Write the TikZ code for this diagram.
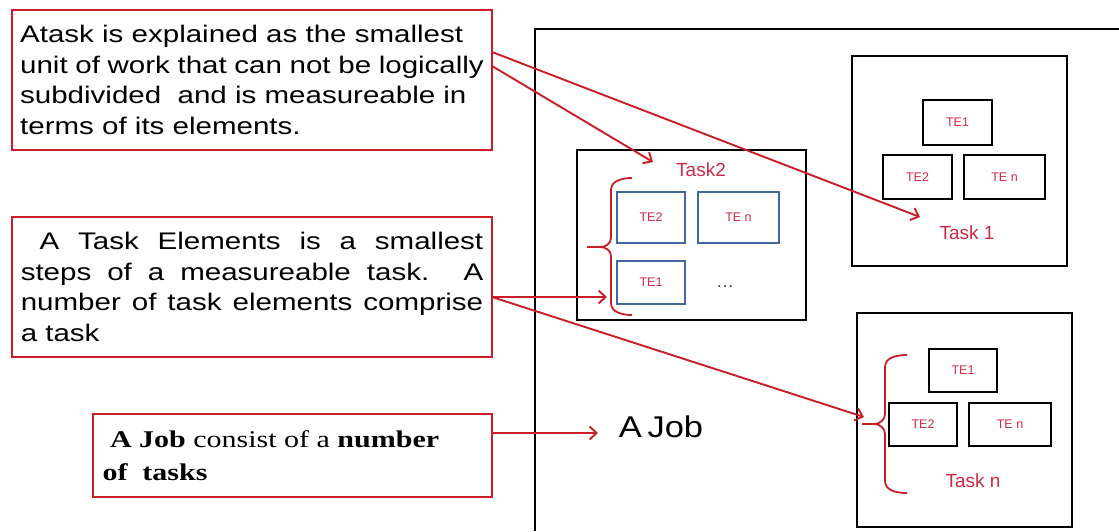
\documentclass[tikz,border=0pt]{standalone}
\usepackage{fontspec}
\setmainfont{Liberation Sans}
\newfontfamily\serifj{Liberation Serif}
\usetikzlibrary{arrows.meta}
\definecolor{rbox}{RGB}{200,30,40}
\definecolor{tered}{RGB}{205,40,70}
\definecolor{teblue}{RGB}{65,105,160}
\begin{document}
\begin{tikzpicture}[x=1pt,y=-1pt,
  textbox/.style={draw=rbox, line width=2pt, inner sep=0pt, align=left},
  taskbox/.style={draw=black, line width=2pt, inner sep=0pt},
  tebox/.style={draw=black, line width=2pt, inner sep=0pt, text=tered, font=\fontsize{12.5}{14}\selectfont},
  tebl/.style={tebox, draw=teblue},
  tasklbl/.style={text=tered, font=\fontsize{19}{22}\selectfont},
  brace/.style={draw=rbox, line width=1.8pt},
  arr/.style={draw=rbox, line width=1.9pt, -{Straight Barb[length=7pt,width=13pt]}}]
\useasboundingbox (0,0) rectangle (1119,531);

% outer job frame
\draw[line width=2pt] (535,531) -- (535,29) -- (1119,29);
\node[font=\fontsize{30}{36}\selectfont] (job) at (661,427) {\scalebox{1.15}[1]{A\,Job}};

% text boxes
\node[textbox, minimum width=480pt, minimum height=140pt] (b1) at (252,80)
  {\scalebox{1.23}[1]{\parbox{377pt}{\fontsize{24}{30.5}\selectfont
  Atask is explained as the smallest\\
  unit of work that can not be logically\\
  subdivided \ and is measureable in\\
  terms of its elements.}}};
\node[textbox, minimum width=480pt, minimum height=140pt] (b2) at (252,287)
  {\scalebox{1.23}[1]{\parbox{376pt}{\fontsize{24}{30.5}\selectfont
  \makebox[376pt][s]{\ A Task Elements is a smallest}\\
  \makebox[376pt][s]{steps of a measureable task. A}\\
  \makebox[376pt][s]{number of task elements comprise}\\
  a task}}};
\node[textbox, minimum width=399pt, minimum height=83pt] (b3) at (292.5,455.5)
  {\scalebox{1.25}[1]{\parbox{304pt}{\serifj\fontsize{24}{33}\selectfont
  \ \textbf{A Job} consist of a \textbf{number}\\
  \textbf{of \ tasks}}}};

% Task2
\node[taskbox, minimum width=229pt, minimum height=170pt] (task2) at (691.5,235) {};
\node[tasklbl] (task2l) at (701,170) {Task2};
\node[tebl, minimum width=68pt, minimum height=51pt] (t2e2) at (651,217.5) {TE2};
\node[tebl, minimum width=81pt, minimum height=51pt] (t2en) at (738.5,217.5) {TE n};
\node[tebl, minimum width=68pt, minimum height=43pt] (t2e1) at (651,282.5) {TE1};
\node[text=teblue!70!black, font=\fontsize{18}{20}\selectfont] (dots) at (725,287) {\dots};
\draw[brace] (632,178) to[out=180,in=90] (611,190) -- (611,238) to[out=-90,in=0] (600,247) -- (587,247)
  (600,247) to[out=0,in=90] (611,256) -- (611,303) to[out=-90,in=180] (632,315);

% Task1
\node[taskbox, minimum width=215pt, minimum height=210pt] (task1) at (959.5,161) {};
\node[tebox, minimum width=69pt, minimum height=45pt] (t1e1) at (957.5,122.5) {TE1};
\node[tebox, minimum width=69pt, minimum height=44pt] (t1e2) at (917.5,177) {TE2};
\node[tebox, minimum width=81pt, minimum height=44pt] (t1en) at (1004.5,177) {TE n};
\node[tasklbl] (task1l) at (967,233) {Task 1};

% Task n
\node[taskbox, minimum width=215pt, minimum height=214pt] (taskn) at (964.5,420) {};
\node[tebox, minimum width=68pt, minimum height=43pt] (tne1) at (963,370.5) {TE1};
\node[tebox, minimum width=68pt, minimum height=43pt] (tne2) at (923,424.5) {TE2};
\node[tebox, minimum width=82pt, minimum height=43pt] (tnen) at (1010,424.5) {TE n};
\node[tasklbl] (tasknl) at (973,481) {Task n};
\draw[brace] (907,355) to[out=180,in=90] (885,367) -- (885,414) to[out=-90,in=0] (874,424) -- (862,424)
  (874,424) to[out=0,in=90] (885,434) -- (885,481) to[out=-90,in=180] (907,493);

% arrows
\coordinate (s1a) at (492,52);
\coordinate (s1b) at (492,66);
\coordinate (s2) at (492,297);
\coordinate (s3) at (492,433);
\coordinate (e1a) at (920,217);
\coordinate (e1b) at (653,162);
\coordinate (e2a) at (607,297);
\coordinate (e2b) at (864,417);
\coordinate (e3) at (598,433);
\draw[arr] (s1a) -- (e1a);
\draw[arr] (s1b) -- (e1b);
\draw[arr] (s2) -- (e2a);
\draw[arr] (s2) -- (e2b);
\draw[arr] (s3) -- (e3);
\end{tikzpicture}
\end{document}
